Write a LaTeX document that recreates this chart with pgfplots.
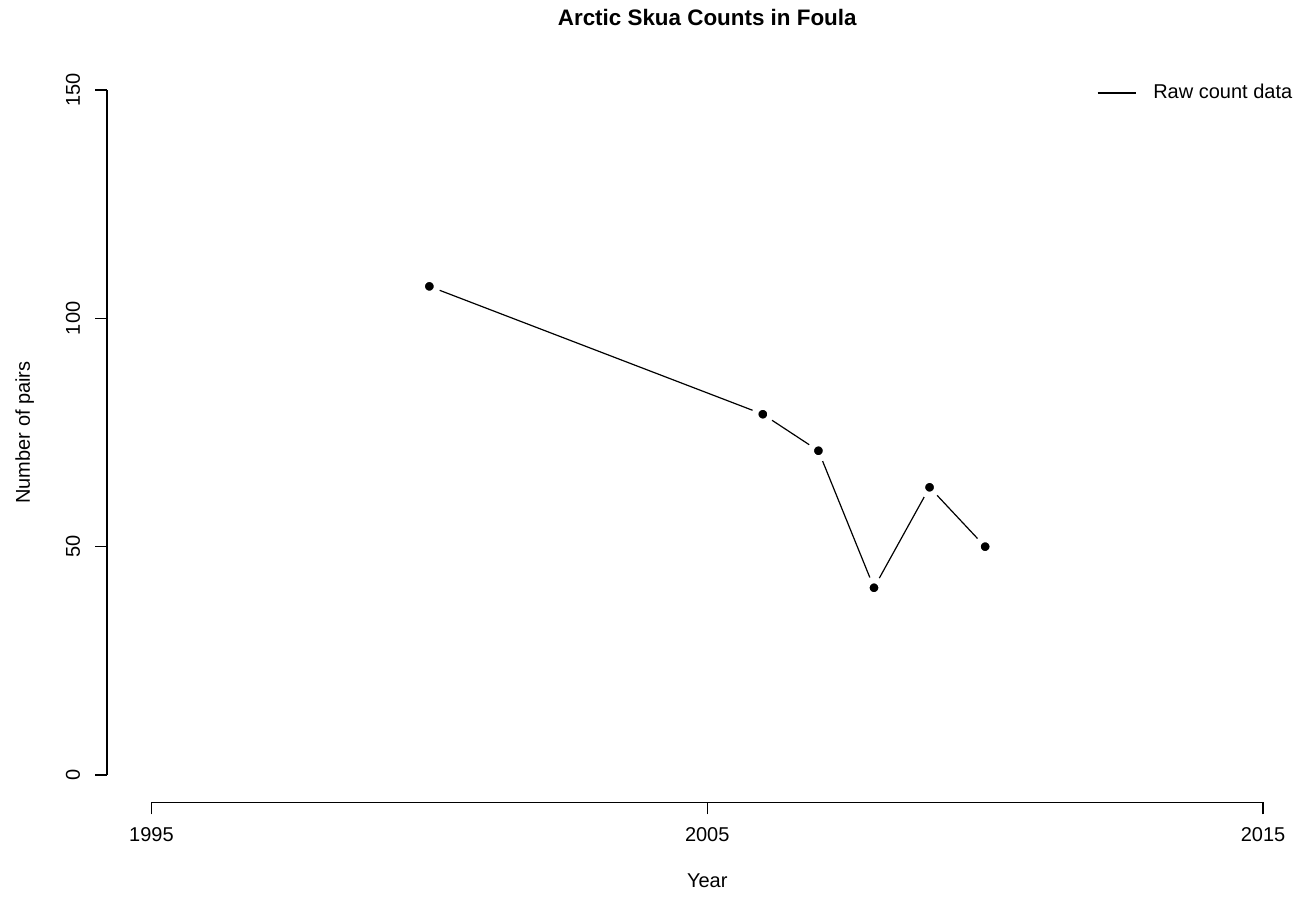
\documentclass[border=0pt]{standalone}
\usepackage{pgfplots}
\pgfplotsset{compat=1.18}
\usepackage{fontspec}
\setmainfont{Liberation Sans}
\begin{document}
\begin{tikzpicture}
\useasboundingbox (0,0) rectangle (650.5pt,448.5pt);
\begin{axis}[
  at={(53.5pt,47.3pt)}, anchor=south west,
  scale only axis, width=600.25pt, height=369.9pt,
  xmin=1994.2, xmax=2015.8, ymin=-6, ymax=156,
  clip=false,
  axis x line*=bottom, axis y line*=left,
  axis line style={draw=none},
  xtick={1995,2005,2015}, ytick={0,50,100,150},
  minor tick num=0,
  tick align=outside, major tick length=6pt,
  tick style={black, line width=0.6pt},
  /pgf/number format/assume math mode=true,
  /pgf/number format/1000 sep={},
  ticklabel style={font=\fontsize{10}{12}\selectfont},
  xticklabel style={yshift=-3pt},
  yticklabel style={xshift=-4pt, rotate=90, anchor=south},
  xlabel={Year},
  ylabel={Number of pairs},
  xlabel style={at={(axis description cs:0.5,-0.1056)}, anchor=center, font=\fontsize{10}{12}\selectfont},
  ylabel style={at={(axis description cs:-0.0685,0.5)}, anchor=center, rotate=0, font=\fontsize{10}{12}\selectfont},
  every axis title shift=0pt,
  title={Arctic Skua Counts in Foula},
  title style={at={(axis description cs:0.5,1.0603)}, anchor=center, font=\fontsize{11.2}{13}\selectfont\bfseries},
  legend style={draw=none, fill=none, at={(0.8247,0.959)}, anchor=west, inner sep=0pt, outer sep=0pt,
    nodes={inner sep=0pt, font=\fontsize{10}{12}\selectfont}},
  legend cell align=left,
  legend image code/.code={\draw[black, line width=0.6pt] (0pt,0pt) -- (19pt,0pt); \path (27.5pt,0pt);},
]
\addplot[black, line width=0.6pt, mark=*, mark size=3.875pt,
  mark options={fill=black, draw=white, line width=3.25pt}]
  coordinates {(2000,107) (2006,79) (2007,71) (2008,41) (2009,63) (2010,50)};
\addlegendentry{Raw count data}
\draw[black, line width=0.6pt] (axis cs:1995,-6) -- (axis cs:2015,-6);
\draw[black, line width=0.6pt] (axis cs:1994.2,0) -- (axis cs:1994.2,150);
\end{axis}
\end{tikzpicture}
\end{document}
